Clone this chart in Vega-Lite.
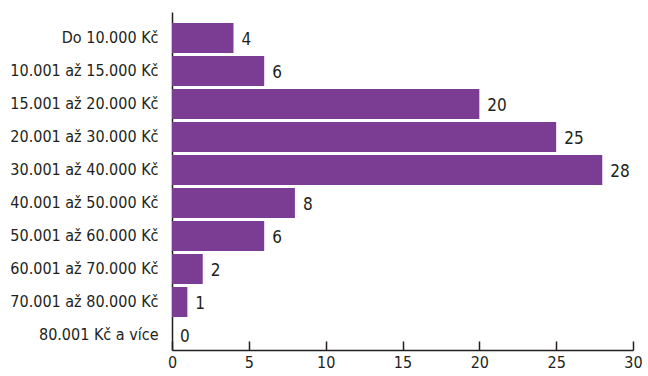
{
  "$schema": "https://vega.github.io/schema/vega-lite/v6.json",
  "autosize": "none",
  "width": 461,
  "height": 338,
  "padding": {"left": 172, "top": 12, "right": 15, "bottom": 26},
  "background": "white",
  "config": {
    "view": {"stroke": null},
    "font": "DejaVu Sans Condensed",
    "axis": {"labelFont": "DejaVu Sans Condensed", "labelColor": "#231f20", "domainColor": "#231f20", "tickColor": "#231f20", "grid": false, "title": null}
  },
  "data": {
    "values": [
      {"cat": "Do 10.000 Kč", "v": 4},
      {"cat": "10.001 až 15.000 Kč", "v": 6},
      {"cat": "15.001 až 20.000 Kč", "v": 20},
      {"cat": "20.001 až 30.000 Kč", "v": 25},
      {"cat": "30.001 až 40.000 Kč", "v": 28},
      {"cat": "40.001 až 50.000 Kč", "v": 8},
      {"cat": "50.001 až 60.000 Kč", "v": 6},
      {"cat": "60.001 až 70.000 Kč", "v": 2},
      {"cat": "70.001 až 80.000 Kč", "v": 1},
      {"cat": "80.001 Kč a více", "v": 0}
    ]
  },
  "encoding": {
    "y": {
      "field": "cat", "type": "nominal", "sort": null,
      "scale": {"paddingInner": 0.09, "paddingOuter": 0.167, "align": 1},
      "axis": {"ticks": false, "labelFontSize": 16, "labelPadding": 14, "domainWidth": 1.5}
    },
    "x": {
      "field": "v", "type": "quantitative",
      "scale": {"domain": [0, 30], "nice": false},
      "axis": {"values": [0, 5, 10, 15, 20, 25, 30], "tickSize": -9, "tickWidth": 1.5, "domainWidth": 1.5, "labelFontSize": 16, "labelPadding": 13, "labelFlush": false}
    }
  },
  "layer": [
    {"mark": {"type": "bar", "color": "#7b3c94"}},
    {"mark": {"type": "text", "align": "left", "dx": 8, "fontSize": 17, "color": "#231f20", "baseline": "middle", "dy": 2}, "encoding": {"text": {"field": "v", "type": "quantitative"}}}
  ]
}
